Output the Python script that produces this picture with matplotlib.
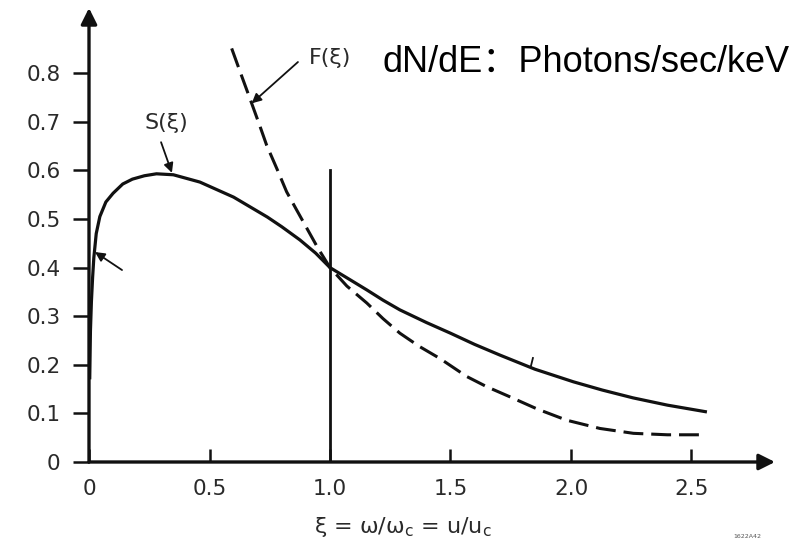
import matplotlib
matplotlib.use("Agg")
import matplotlib.pyplot as plt

# ---- data ----
s_x = [0.003, 0.006, 0.01, 0.015, 0.02, 0.03, 0.045, 0.07, 0.1, 0.14, 0.18, 0.23,
       0.28, 0.35, 0.46, 0.6, 0.74, 0.8, 0.875, 0.94, 1.0, 1.08, 1.153, 1.22, 1.29,
       1.4, 1.5, 1.6, 1.705, 1.85, 2.01, 2.13, 2.257, 2.4, 2.564]
s_y = [0.17, 0.27, 0.33, 0.38, 0.42, 0.47, 0.505, 0.535, 0.553, 0.572, 0.582, 0.589,
       0.593, 0.591, 0.576, 0.545, 0.504, 0.484, 0.457, 0.43, 0.40, 0.376, 0.354,
       0.333, 0.313, 0.287, 0.265, 0.242, 0.220, 0.191, 0.165, 0.148, 0.132, 0.117,
       0.103]

f_x = [0.592, 0.627, 0.675, 0.71, 0.737, 0.78, 0.82, 0.86, 0.896, 0.95, 1.0, 1.07,
       1.153, 1.22, 1.29, 1.37, 1.456, 1.567, 1.65, 1.747, 1.86, 1.982, 2.12, 2.259,
       2.4, 2.535]
f_y = [0.851, 0.803, 0.738, 0.69, 0.652, 0.603, 0.556, 0.52, 0.488, 0.44, 0.40, 0.362,
       0.327, 0.295, 0.265, 0.238, 0.213, 0.176, 0.155, 0.134, 0.109, 0.086, 0.069,
       0.059, 0.056, 0.056]

x_ticks = [0, 0.5, 1.0, 1.5, 2.0, 2.5]
x_ticklabels = ["0", "0.5", "1.0", "1.5", "2.0", "2.5"]
y_ticks = [0, 0.1, 0.2, 0.3, 0.4, 0.5, 0.6, 0.7, 0.8]
y_ticklabels = ["0", "0.1", "0.2", "0.3", "0.4", "0.5", "0.6", "0.7", "0.8"]

xi_c = 1.0
xi_c_top = 0.60

W, H = 793, 546
fig = plt.figure(figsize=(W / 100, H / 100), dpi=100)
fig.patch.set_facecolor("white")

x0, x1 = 89, 775
y0, y1 = 462, 8
ax = fig.add_axes([x0 / W, 1 - y0 / H, (x1 - x0) / W, (y0 - y1) / H])
ax.set_xlim(0, (x1 - x0) / 241)
ax.set_ylim(0, (y0 - y1) / 486)
ax.patch.set_alpha(0)

for sp in ax.spines.values():
    sp.set_visible(False)

ink = "#111111"
lab = "#2a2a2a"

# axes with arrows
ax.annotate("", xy=(1, 0), xytext=(0, 0), xycoords="axes fraction",
            arrowprops=dict(arrowstyle="-|>", lw=2.4, color=ink, mutation_scale=24,
                            shrinkA=0, shrinkB=0))
ax.annotate("", xy=(0, 1), xytext=(0, 0), xycoords="axes fraction",
            arrowprops=dict(arrowstyle="-|>", lw=2.4, color=ink, mutation_scale=24,
                            shrinkA=0, shrinkB=0))

ax.set_xticks(x_ticks)
ax.set_xticklabels(x_ticklabels)
ax.set_yticks(y_ticks)
ax.set_yticklabels(y_ticklabels)
ax.tick_params(axis="x", direction="in", length=9.5, width=1.8, color=ink,
               pad=12, labelsize=15.5, labelcolor=lab)
ax.tick_params(axis="y", direction="out", length=11.5, width=1.8, color=ink,
               pad=9, labelsize=15.5, labelcolor=lab)

# curves
ax.plot(s_x, s_y, color=ink, lw=2.3, solid_capstyle="butt", solid_joinstyle="round")
ax.plot(f_x, f_y, color=ink, lw=2.2, linestyle=(0, (6.5, 2.6)))
ax.plot([xi_c, xi_c], [0, xi_c_top], color=ink, lw=2.0)

# small stroke on S curve
ax.plot([1.842, 1.834], [0.214, 0.198], color=ink, lw=1.3)

# annotations
arr = dict(arrowstyle="-|>", lw=1.3, color=ink, mutation_scale=14, shrinkA=0, shrinkB=0)
ax.annotate("", xy=(0.025, 0.432), xytext=(0.137, 0.395), arrowprops=arr)
ax.text(0.32, 0.698, "S(ξ)", fontsize=16, color=lab, ha="center", va="center")
ax.annotate("", xy=(0.344, 0.595), xytext=(0.299, 0.658), arrowprops=arr)
ax.text(1.0, 0.831, "F(ξ)", fontsize=16, color=lab, ha="center", va="center")
ax.annotate("", xy=(0.675, 0.738), xytext=(0.867, 0.823), arrowprops=arr)

fig.text(403 / W, 1 - 527 / H, "ξ = ω/ω$_\\mathrm{c}$ = u/u$_\\mathrm{c}$",
         fontsize=16, color=lab, ha="center", va="center")

fig.text(382 / W, 1 - 72 / H, "dN/dE：Photons/sec/keV",
         family=["Liberation Sans", "Noto Sans CJK SC"], fontsize=26,
         color="black", ha="left", va="baseline")

fig.text(747 / W, 1 - 537 / H, "1622A42", fontsize=4.5, color="#555555",
         ha="center", va="center")

fig.savefig("out.png", dpi=100, facecolor="white")
